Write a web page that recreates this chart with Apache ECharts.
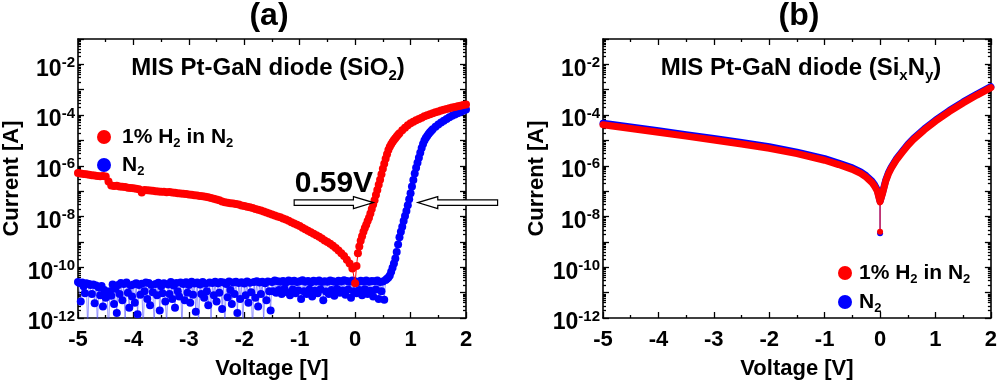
<!DOCTYPE html>
<html><head><meta charset="utf-8">
<script src="https://cdn.jsdelivr.net/npm/echarts@6/dist/echarts.min.js"></script>
<style>html,body{margin:0;padding:0;background:#fff}#c{width:1000px;height:385px}</style>
</head><body><div id="c"></div>
<script>
// ---------------- DATA (currents stored as log10 of I [A]) ----------------
const NAME_H2 = '1% H2 in N2';
const NAME_N2 = 'N2';

const voltageRange = [-5, 2];                 // x axis extent [V]
const exponentRange = [-12, -1];              // y axis extent, log10(I)
const exponentLabels = [-12, -10, -8, -6, -4, -2];

// Panel (a) – 1% H2 in N2
const redA_seg1 = { start: -5, step: 0.05, log10I: [
  -6.28,-6.30,-6.32,-6.33,-6.35,-6.37,-6.38,-6.40,-6.41,-6.40,
  -6.42,-6.62,-6.78,-6.80,-6.79,-6.82,-6.83,-6.84,-6.86,-6.87,
  -6.88,-6.90,-6.92,-7.05,-6.95,-6.96,-6.97,-6.98,-7.00,-7.01,
  -7.02,-7.02,-7.04,-7.03,-7.05,-7.06,-7.08,-7.09,-7.10,-7.11,
  -7.13,-7.14,-7.16,-7.17,-7.19,-7.20,-7.22,-7.24,-7.27,-7.30,
  -7.33,-7.36,-7.41,-7.44,-7.46,-7.48,-7.49,-7.51,-7.53,-7.56,
  -7.58,-7.61,-7.63,-7.66,-7.70,-7.73,-7.76,-7.80,-7.84,-7.88,
  -7.92,-7.96,-8.00,-8.03,-8.08,-8.12,-8.17,-8.22,-8.27,-8.32,
  -8.37,-8.44,-8.50,-8.56,-8.62,-8.68,-8.74,-8.80,-8.87,-8.94,
  -9.00,-9.07,-9.15,-9.24,-9.34,-9.45,-9.56,-9.70,-9.85,-10.05 ] };
const redA_seg2 = { start: 0, step: 0.025, log10I: [
  -10.63,-9.95,-9.45,-9.18,-8.95,-8.78,-8.60,-8.45,-8.32,-8.18,
  -8.05,-7.88,-7.70,-7.53,-7.36,-7.15,-6.95,-6.75,-6.55,-6.33,
  -6.12,-5.92,-5.72,-5.54,-5.38,-5.25,-5.15,-5.06,-4.98,-4.91,
  -4.84,-4.78,-4.72 ] };
const redA_seg3 = { start: 0.85, step: 0.05, log10I: [
  -4.60,-4.50,-4.40,-4.32,-4.26,-4.20,-4.15,-4.10,-4.05,-4.01,
  -3.97,-3.93,-3.89,-3.86,-3.82,-3.79,-3.76,-3.73,-3.70,-3.68,
  -3.65,-3.63,-3.60,-3.58 ] };

// Panel (a) – N2
const blueA_noise = { start: -5, step: 0.025, log10I: [
  -10.58,-10.62,-11.35,-10.60,-10.75,-11.02,-10.63,-12.4,-10.66,-10.70,
  -11.05,-10.68,-11.42,-10.72,-12.3,-10.80,-11.10,-10.74,-11.55,-10.90,
  -11.20,-11.02,-12.6,-10.95,-11.12,-10.68,-11.45,-10.85,-11.80,-10.70,
  -11.05,-10.62,-11.30,-10.66,-12.2,-10.60,-11.00,-11.60,-10.72,-11.15,
  -10.68,-11.40,-10.63,-11.85,-10.70,-11.08,-10.65,-12.5,-10.95,-10.60,
  -11.25,-10.62,-11.50,-10.70,-10.98,-12.3,-10.66,-11.10,-10.61,-11.70,
  -10.75,-11.02,-10.63,-11.35,-12.2,-10.68,-11.05,-10.58,-11.25,-10.72,
  -11.60,-10.62,-10.95,-11.15,-10.60,-12.4,-10.66,-11.30,-10.59,-11.00,
  -10.70,-11.40,-10.57,-11.08,-10.64,-11.75,-10.60,-12.3,-10.68,-11.05,
  -10.58,-11.20,-10.65,-10.95,-11.50,-10.60,-12.2,-10.62,-11.10,-10.57,
  -11.35,-10.63,-11.00,-10.58,-11.65,-10.60,-12.4,-10.66,-11.18,-10.56,
  -10.90,-11.45,-10.60,-11.05,-10.57,-11.80,-10.62,-11.25,-10.59,-12.3,
  -10.64,-11.10,-10.56,-11.40,-10.61,-10.98,-12.5,-10.58,-11.20,-10.55,
  -11.55,-10.60,-11.05,-10.57,-12.2,-10.63,-11.30,-10.56,-10.95,-11.70,
  -10.58,-10.95,-10.52,-11.00,-10.55,-10.90,-10.57,-11.05,-10.54,-10.85,
  -10.60,-10.98,-10.52,-11.10,-10.56,-10.88,-10.53,-11.02,-10.58,-10.92,
  -10.55,-11.25,-10.51,-10.95,-10.57,-11.05,-10.54,-10.88,-10.60,-11.15,
  -10.53,-10.93,-10.56,-11.02,-10.52,-10.87,-10.58,-11.30,-10.55,-10.96,
  -10.57,-11.05,-10.52,-10.90,-10.55,-11.12,-10.58,-10.86,-10.53,-11.00,
  -10.56,-10.92,-10.51,-11.08,-10.54,-10.88,-10.57,-11.20,-10.52,-10.95,
  -10.55,-11.02,-10.58,-10.90,-10.53,-11.10,-10.56,-10.87,-10.52,-11.05,
  -10.57,-10.93,-10.54,-11.15,-10.55,-10.88,-10.52,-11.25,-10.58,-10.95,
  -10.56,-11.28,-10.50 ] };
const blueA_rise1 = { start: 0.575, step: 0.025, log10I: [
  -10.45,-10.40,-10.32,-10.18,-10.02,-9.85,-9.65,-9.40,-9.10,-8.82,
  -8.60,-8.40,-8.18,-7.98,-7.78,-7.55,-7.32,-7.08,-6.82,-6.56,
  -6.30,-6.08,-5.88,-5.68,-5.48,-5.30,-5.14,-5.00,-4.90,-4.82,
  -4.75,-4.68,-4.62,-4.56 ] };
const blueA_rise2 = { start: 1.45, step: 0.05, log10I: [
  -4.46,-4.37,-4.29,-4.22,-4.15,-4.09,-4.03,-3.98,-3.93,-3.88,-3.83,-3.78 ] };

// Panel (b) – [V, log10 I]
const redB = [[-5,-4.38],[-4.5,-4.53],[-4,-4.68],[-3.5,-4.83],[-3,-4.98],[-2.5,-5.14],[-2,-5.31],
  [-1.5,-5.52],[-1,-5.78],[-0.75,-5.95],[-0.5,-6.14],[-0.35,-6.30],[-0.25,-6.45],[-0.15,-6.65],
  [-0.1,-6.80],[-0.05,-7.00],[-0.02,-7.25],[0,-7.42],[0.02,-7.38],[0.05,-7.05],[0.1,-6.62],
  [0.15,-6.32],[0.2,-6.10],[0.3,-5.75],[0.4,-5.47],[0.5,-5.20],[0.6,-4.97],[0.8,-4.58],
  [1.0,-4.24],[1.25,-3.86],[1.5,-3.52],[1.75,-3.21],[2.0,-2.92]];
const blueB = [[-5,-4.32],[-4.5,-4.47],[-4,-4.62],[-3.5,-4.77],[-3,-4.92],[-2.5,-5.08],[-2,-5.25],
  [-1.5,-5.46],[-1,-5.72],[-0.75,-5.89],[-0.5,-6.08],[-0.35,-6.24],[-0.25,-6.39],[-0.15,-6.59],
  [-0.1,-6.74],[-0.05,-6.95],[-0.02,-7.21],[0,-7.40],[0.02,-7.35],[0.05,-7.01],[0.1,-6.58],
  [0.15,-6.28],[0.2,-6.06],[0.3,-5.71],[0.4,-5.43],[0.5,-5.16],[0.6,-4.93],[0.8,-4.54],
  [1.0,-4.20],[1.25,-3.82],[1.5,-3.48],[1.75,-3.17],[2.0,-2.88]];
const redB_dip = [[0,-7.42],[0,-8.60]];
const blueB_dip = [[0,-7.40],[0,-8.66]];

// annotation anchors (data coords of panel a)
const shiftLabel = { text: '0.59V', v: -1.09, log10I: -6.62 };
const arrowLeft  = { tipV: 0.33, tailV: -1.10, log10I: -7.45 };
const arrowRight = { tipV: 1.13, tailV: 2.57, log10I: -7.45 };

// ---------------- BUILD ----------------
const FONT = '"Liberation Sans", Arial, Helvetica, sans-serif';
const RED = '#ff0000', BLUE = '#0000ff';
function sweep(seg) { return seg.log10I.map((e, i) => [Math.round((seg.start + i * seg.step) * 1000) / 1000, e]); }
const redA = [].concat(sweep(redA_seg1), sweep(redA_seg2), sweep(redA_seg3));
const blueA = [].concat(sweep(blueA_noise), sweep(blueA_rise1), sweep(blueA_rise2));

const minorExps = [];
for (let n = exponentRange[0]; n < exponentRange[1]; n++) for (let k = 2; k <= 9; k++) minorExps.push(n + Math.log10(k));

const axisLineStyle = { color: '#000', width: 1.6 };
const tickLine = { color: '#000', width: 1.3 };
const boldText = (size) => ({ fontFamily: FONT, fontWeight: 'bold', fontSize: size, color: '#000' });

function xAxes(gi) {
  const base = { gridIndex: gi, type: 'value', min: voltageRange[0], max: voltageRange[1], interval: 1,
    axisLine: { show: true, onZero: false, lineStyle: axisLineStyle },
    axisTick: { show: true, inside: true, length: 6, lineStyle: tickLine },
    minorTick: { show: true, splitNumber: 2, length: 3, lineStyle: tickLine },
    splitLine: { show: false }, minorSplitLine: { show: false } };
  return [
    Object.assign({}, base, { position: 'bottom',
      axisLabel: Object.assign(boldText(22), { margin: 11 }),
      name: 'Voltage [V]', nameLocation: 'middle', nameGap: 40, nameTextStyle: boldText(22) }),
    Object.assign({}, base, { position: 'top', axisLabel: { show: false } })
  ];
}
function yAxes(gi) {
  const base = { gridIndex: gi, type: 'value', min: exponentRange[0], max: exponentRange[1], interval: 1,
    splitLine: { show: false } };
  const labelFmt = (v) => exponentLabels.includes(Math.round(v)) ? '{b|10}{s|' + Math.round(v) + '}' : '';
  return [
    Object.assign({}, base, { position: 'left',
      axisLine: { show: true, onZero: false, lineStyle: axisLineStyle },
      axisTick: { show: true, inside: true, length: 6, lineStyle: tickLine },
      axisLabel: { show: true, margin: 3, formatter: labelFmt, padding: [10, 0, 0, 0],
        rich: { b: Object.assign(boldText(23), { lineHeight: 28 }),
                s: Object.assign(boldText(15), { lineHeight: 14, verticalAlign: 'top' }) } },
      name: 'Current [A]', nameLocation: 'middle', nameGap: 55, nameTextStyle: boldText(22) }),
    Object.assign({}, base, { position: 'right',
      axisLine: { show: true, onZero: false, lineStyle: axisLineStyle },
      axisTick: { show: true, inside: true, length: 6, lineStyle: tickLine },
      axisLabel: { show: false } }),
    Object.assign({}, base, { position: 'left', axisLine: { show: false, onZero: false }, axisLabel: { show: false },
      axisTick: { show: true, inside: true, length: 3, lineStyle: tickLine, customValues: minorExps } }),
    Object.assign({}, base, { position: 'right', axisLine: { show: false, onZero: false }, axisLabel: { show: false },
      axisTick: { show: true, inside: true, length: 3, lineStyle: tickLine, customValues: minorExps } })
  ];
}

const legendFmt = (name) => name === NAME_H2 ? '1% H{sub|2} in N{sub|2}' : 'N{sub|2}';
const legendText = Object.assign(boldText(21), { lineHeight: 26,
  rich: { sub: Object.assign(boldText(13), { lineHeight: 14, verticalAlign: 'bottom' }) } });

const chart = echarts.init(document.getElementById('c'), null, { renderer: 'canvas' });
const option = {
  animation: false,
  backgroundColor: '#fff',
  grid: [
    { left: 73, top: 39, width: 393, height: 290, containLabel: false },
    { left: 603, top: 39, width: 390, height: 290, containLabel: false }
  ],
  xAxis: [].concat(xAxes(0), xAxes(1)),
  yAxis: [].concat(yAxes(0), yAxes(1)),
  legend: [
    { data: [NAME_H2, NAME_N2], orient: 'vertical', left: 92, top: 119, itemWidth: 26, itemHeight: 14,
      itemGap: 2, icon: 'circle', formatter: legendFmt, textStyle: legendText, selectedMode: false },
    { data: [NAME_H2, NAME_N2], orient: 'vertical', left: 833, top: 255, itemWidth: 18, itemHeight: 14,
      itemGap: 3, icon: 'circle', formatter: legendFmt, textStyle: legendText, selectedMode: false }
  ],
  series: [
    { name: NAME_N2, type: 'line', xAxisIndex: 0, yAxisIndex: 0, data: blueA, symbol: 'circle', symbolSize: 8,
      showAllSymbol: true, clip: true, itemStyle: { color: BLUE },
      lineStyle: { color: 'rgba(70,70,255,0.55)', width: 1 }, z: 2 },
    { name: NAME_H2, type: 'line', xAxisIndex: 0, yAxisIndex: 0, data: redA, symbol: 'circle', symbolSize: 8,
      showAllSymbol: true, clip: true, itemStyle: { color: RED },
      lineStyle: { color: RED, width: 1 }, z: 3 },
    { name: NAME_N2, type: 'line', xAxisIndex: 2, yAxisIndex: 4, data: blueB, showSymbol: false, clip: true,
      itemStyle: { color: BLUE }, lineStyle: { color: BLUE, width: 7, cap: 'round', join: 'round' }, z: 2 },
    { name: NAME_N2, type: 'line', xAxisIndex: 2, yAxisIndex: 4, data: blueB_dip, symbol: 'circle', symbolSize: 6,
      clip: true, itemStyle: { color: BLUE }, lineStyle: { color: BLUE, width: 1 }, z: 2 },
    { name: NAME_H2, type: 'line', xAxisIndex: 2, yAxisIndex: 4, data: redB, showSymbol: false, clip: true,
      itemStyle: { color: RED }, lineStyle: { color: RED, width: 7, cap: 'round', join: 'round' }, z: 3 },
    { name: NAME_H2, type: 'line', xAxisIndex: 2, yAxisIndex: 4, data: redB_dip, symbol: 'circle', symbolSize: 6,
      clip: true, itemStyle: { color: RED }, lineStyle: { color: RED, width: 1 }, z: 3 }
  ]
};
chart.setOption(option);

// ---------------- ANNOTATIONS ----------------
function px(v, e) { return chart.convertToPixel({ xAxisIndex: 0, yAxisIndex: 0 }, [v, e]); }
function arrowPoints(tip, tail, y, dir) {
  const sh = 2.8, hh = 6, hl = 20;
  const b = tip[0] - dir * hl;
  return [[tail, y - sh], [b, y - sh], [b, y - hh], [tip[0], y], [b, y + hh], [b, y + sh], [tail, y + sh]];
}
const tL = px(arrowLeft.tipV, arrowLeft.log10I), sL = px(arrowLeft.tailV, arrowLeft.log10I);
const tR = px(arrowRight.tipV, arrowRight.log10I), sR = px(arrowRight.tailV, arrowRight.log10I);
const lab = px(shiftLabel.v, shiftLabel.log10I);
function txt(x, y, text, rich, font) {
  return { type: 'text', x: x, y: y, z: 100, style: Object.assign({ text: text, fill: '#000',
    align: 'center', verticalAlign: 'middle', textAlign: 'center', textVerticalAlign: 'middle', rich: rich }, font) };
}
const titleRich = { t: boldText(24), s: Object.assign(boldText(15), { lineHeight: 14, verticalAlign: 'bottom' }) };
titleRich.t.lineHeight = 30;
function richFix(r) { const o = {}; for (const k in r) { const s = r[k]; o[k] = { fontFamily: s.fontFamily, fontWeight: s.fontWeight, fontSize: s.fontSize, fill: '#000', lineHeight: s.lineHeight, verticalAlign: s.verticalAlign }; } return o; }
chart.setOption({ graphic: [
  txt(269, 16, '(a)', null, { fontFamily: FONT, fontWeight: 'bold', fontSize: 32 }),
  txt(799, 16, '(b)', null, { fontFamily: FONT, fontWeight: 'bold', fontSize: 32 }),
  txt(268, 68, '{t|MIS Pt-GaN diode (SiO}{s|2}{t|)}', richFix(titleRich), { fontFamily: FONT, fontWeight: 'bold', fontSize: 24 }),
  txt(801, 68, '{t|MIS Pt-GaN diode (Si}{s|x}{t|N}{s|y}{t|)}', richFix(titleRich), { fontFamily: FONT, fontWeight: 'bold', fontSize: 24 }),
  { type: 'text', x: lab[0], y: lab[1] + 2, z: 100, style: { text: shiftLabel.text, fill: '#000', fontFamily: FONT,
    fontWeight: 'bold', fontSize: 30, align: 'left', verticalAlign: 'middle', textAlign: 'left', textVerticalAlign: 'middle' } },
  { type: 'polygon', z: 100, shape: { points: arrowPoints(tL, sL[0], tL[1], 1) }, style: { fill: '#fff', stroke: '#000', lineWidth: 1.2 } },
  { type: 'polygon', z: 100, shape: { points: arrowPoints(tR, sR[0], tR[1], -1) }, style: { fill: '#fff', stroke: '#000', lineWidth: 1.2 } }
] });
</script>
</body></html>
